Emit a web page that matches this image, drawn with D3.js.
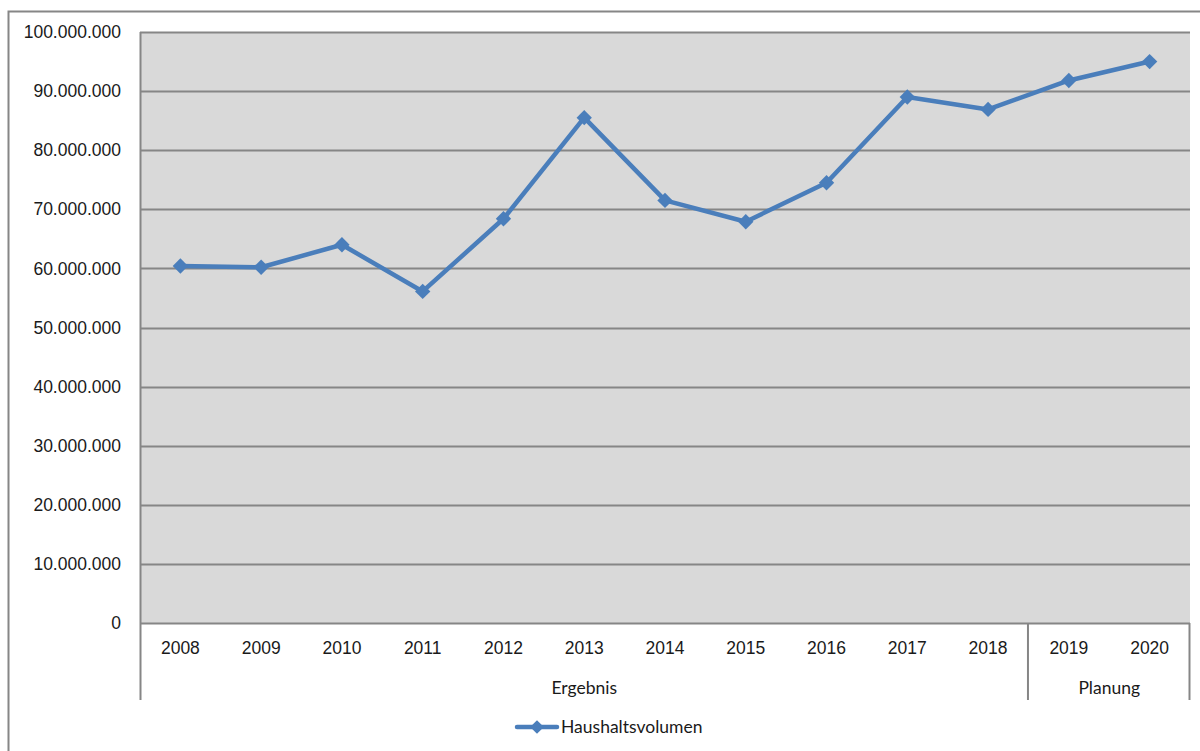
<!DOCTYPE html>
<html>
<head>
<meta charset="utf-8">
<script src="https://cdn.jsdelivr.net/npm/d3@7"></script>
<style>
  html, body { margin: 0; padding: 0; background: #fff; }
  svg { display: block; font-family: Lato, "Open Sans", sans-serif; }
</style>
</head>
<body>
<svg id="chart" width="1200" height="751"></svg>
<script>
// Haushaltsvolumen per year, Ergebnis (2008–2018) and Planung (2019–2020)
const years = ["2008", "2009", "2010", "2011", "2012", "2013", "2014", "2015", "2016", "2017", "2018", "2019", "2020"];
const volumes = [60400000, 60200000, 64000000, 56100000, 68400000, 85500000, 71500000, 67900000, 74500000, 89000000, 86900000, 91800000, 95000000];
const groups = [
  { name: "Ergebnis", from: "2008", to: "2018" },
  { name: "Planung", from: "2019", to: "2020" }
];
const yTicks = [0, 10000000, 20000000, 30000000, 40000000, 50000000, 60000000, 70000000, 80000000, 90000000, 100000000];
const seriesName = "Haushaltsvolumen";

const svg = d3.select("#chart");
const plot = { left: 140, top: 32, right: 1190, bottom: 623 };
const lineColor = "#4a7ebb";
const gridColor = "#868686";
const textColor = "#1a1a1a";
const fontSize = 17.5;

// outer chart frame
svg.append("rect")
  .attr("x", 8.5).attr("y", 11.5)
  .attr("width", 1300).attr("height", 900)
  .attr("fill", "#fff").attr("stroke", gridColor).attr("stroke-width", 2);

const x = d3.scaleBand().domain(years).range([plot.left, plot.right]).padding(0);
const y = d3.scaleLinear().domain([0, 100000000]).range([plot.bottom, plot.top]);

// plot background
svg.append("rect")
  .attr("x", plot.left).attr("y", plot.top)
  .attr("width", plot.right - plot.left).attr("height", plot.bottom - plot.top)
  .attr("fill", "#d9d9d9");

// horizontal gridlines
svg.append("g").selectAll("line").data(yTicks).join("line")
  .attr("x1", plot.left).attr("x2", plot.right)
  .attr("y1", d => Math.round(y(d)) + 0.5).attr("y2", d => Math.round(y(d)) + 0.5)
  .attr("stroke", gridColor).attr("stroke-width", 2);

// y axis with German thousands separators
const fmt = d3.formatLocale({ decimal: ",", thousands: ".", grouping: [3], currency: ["", " €"] }).format(",.0f");
const yAxis = d3.axisLeft(y).tickValues(yTicks).tickFormat(fmt).tickSize(0).tickPadding(19);
const yg = svg.append("g").attr("transform", `translate(${plot.left},0)`).call(yAxis);
yg.select(".domain").remove();
yg.selectAll("text").attr("font-size", fontSize).attr("fill", textColor).attr("font-family", null);

// left axis line extends down through the category rows
const axisBottom = 700;
svg.append("line")
  .attr("x1", plot.left + 0.5).attr("x2", plot.left + 0.5)
  .attr("y1", plot.top).attr("y2", axisBottom)
  .attr("stroke", gridColor).attr("stroke-width", 2);

// category labels (years)
const xAxis = d3.axisBottom(x).tickSize(0).tickPadding(19);
const xg = svg.append("g").attr("transform", `translate(0,${plot.bottom})`).call(xAxis);
xg.select(".domain").remove();
xg.selectAll("text").attr("font-size", fontSize).attr("fill", textColor).attr("font-family", null);

// group labels and separators
groups.forEach(g => {
  const x0 = x(g.from), x1 = x(g.to) + x.bandwidth();
  svg.append("text")
    .attr("x", (x0 + x1) / 2).attr("y", 694)
    .attr("text-anchor", "middle")
    .attr("font-size", fontSize).attr("fill", textColor)
    .text(g.name);
  svg.append("line")
    .attr("x1", x1 - 0.5).attr("x2", x1 - 0.5)
    .attr("y1", plot.bottom).attr("y2", axisBottom)
    .attr("stroke", gridColor).attr("stroke-width", 2);
});

// data line
const pts = years.map((yr, i) => [x(yr) + x.bandwidth() / 2, y(volumes[i])]);
svg.append("path")
  .attr("d", d3.line()(pts))
  .attr("fill", "none").attr("stroke", lineColor)
  .attr("stroke-width", 4.5).attr("stroke-linejoin", "round");

const diamond = d3.symbol().type(d3.symbolDiamond2).size(150);
svg.append("g").selectAll("path").data(pts).join("path")
  .attr("transform", d => `translate(${d[0]},${d[1]})`)
  .attr("d", diamond)
  .attr("fill", lineColor);

// legend
const lg = svg.append("g").attr("transform", "translate(517,727)");
lg.append("line").attr("x1", 0).attr("x2", 40).attr("y1", 0).attr("y2", 0)
  .attr("stroke", lineColor).attr("stroke-width", 4.5).attr("stroke-linecap", "round");
lg.append("path").attr("transform", "translate(20,0)").attr("d", d3.symbol().type(d3.symbolDiamond2).size(120)).attr("fill", lineColor);
lg.append("text").attr("x", 44).attr("y", 6)
  .attr("font-size", fontSize).attr("fill", textColor)
  .text(seriesName);
</script>
</body>
</html>
